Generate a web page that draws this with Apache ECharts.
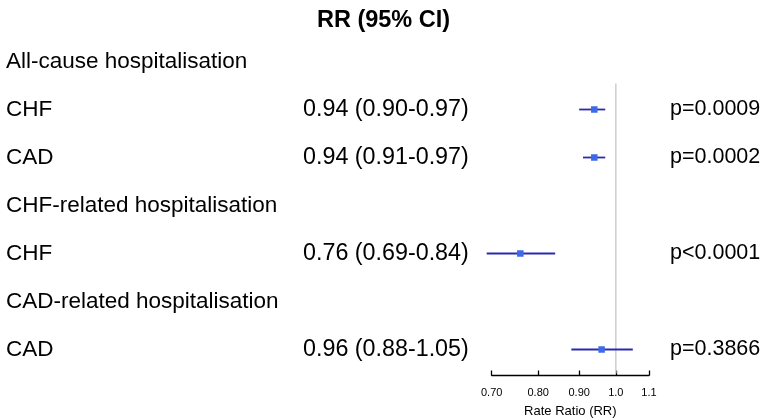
<!DOCTYPE html>
<html><head><meta charset="utf-8">
<script src="https://cdn.jsdelivr.net/npm/echarts@6/dist/echarts.min.js"></script>
<style>html,body{margin:0;padding:0;background:#fff}#c{width:767px;height:419px}</style>
</head><body><div id="c"></div>
<script>
const titleText = 'RR (95% CI)';
const rowLabels = ['All-cause hospitalisation','CHF','CAD','CHF-related hospitalisation','CHF','CAD-related hospitalisation','CAD'];
const estimates = [null,0.94,0.94,null,0.76,null,0.96];
const lowerCI   = [null,0.90,0.91,null,0.69,null,0.88];
const upperCI   = [null,0.97,0.97,null,0.84,null,1.05];
const pValues   = ['','p=0.0009','p=0.0002','','p<0.0001','','p=0.3866'];
const tickValues = [0.70,0.80,0.90,1.0,1.1];
const tickLabels = ['0.70','0.80','0.90','1.0','1.1'];
const axisTitle = 'Rate Ratio (RR)';
const refValue = 1.0;

const estText = estimates.map((e,i)=> e==null ? '' : e.toFixed(2)+' ('+lowerCI[i].toFixed(2)+'-'+upperCI[i].toFixed(2)+')');
const ids = rowLabels.map((_,i)=>String(i));
const L = Math.log;
const font = 'Liberation Sans, Arial, sans-serif';

const gridLeft = 491.7, gridRight = 767-649;
const forestData = [];
estimates.forEach((e,i)=>{ if(e!=null) forestData.push([L(e), i, L(lowerCI[i]), L(upperCI[i])]); });

const chart = echarts.init(document.getElementById('c'), null, {renderer:'canvas'});
chart.setOption({
  animation:false,
  title:{text:titleText,left:'center',top:4,textStyle:{fontFamily:font,fontSize:23.5,fontWeight:'bold',color:'#000'}},
  grid:{left:gridLeft,right:gridRight,top:37.5,height:336,containLabel:false,outerBoundsMode:'none'},
  xAxis:{type:'value',min:L(tickValues[0]),max:L(tickValues[tickValues.length-1]),
    offset:2,
    splitLine:{show:false},
    axisLine:{show:true,lineStyle:{color:'#000',width:1.3}},
    axisTick:{show:true,inside:true,length:5,customValues:tickValues.map(L),lineStyle:{color:'#000',width:1.3}},
    axisLabel:{customValues:tickValues.map(L),margin:12,fontFamily:font,fontSize:11,color:'#000',
      formatter:(v)=>{const k=tickValues.findIndex(t=>Math.abs(L(t)-v)<1e-6);return k>=0?tickLabels[k]:'';}},
    name:axisTitle,nameLocation:'middle',nameGap:29,nameTextStyle:{fontFamily:font,fontSize:13,color:'#000'}},
  yAxis:[
    {type:'category',data:ids,inverse:true,position:'left',axisLine:{show:false},axisTick:{show:false},splitLine:{show:false},
      axisLabel:{align:'left',margin:gridLeft-6,fontFamily:font,fontSize:22.5,color:'#000',formatter:(v,i)=>rowLabels[i]}},
    {type:'category',data:ids,inverse:true,position:'left',axisLine:{show:false},axisTick:{show:false},splitLine:{show:false},
      axisLabel:{align:'left',margin:gridLeft-303,fontFamily:font,fontSize:23.3,color:'#000',formatter:(v,i)=>estText[i]}},
    {type:'category',data:ids,inverse:true,position:'right',axisLine:{show:false},axisTick:{show:false},splitLine:{show:false},
      axisLabel:{align:'left',margin:670-649,fontFamily:font,fontSize:21.5,color:'#000',formatter:(v,i)=>pValues[i]}}
  ],
  series:[
    {type:'custom',coordinateSystem:'cartesian2d',yAxisIndex:0,clip:false,silent:true,
      data:[[L(refValue),1]],
      renderItem:(params,api)=>{
        const p=api.coord([api.value(0),api.value(1)]);
        const band=api.size([0,1])[1];
        const cs=params.coordSys;
        return {type:'line',shape:{x1:p[0],y1:p[1]-band/2-2,x2:p[0],y2:cs.y+cs.height},style:{stroke:'#cfcfcf',lineWidth:1.5}};
      }},
    {type:'custom',coordinateSystem:'cartesian2d',yAxisIndex:0,clip:false,silent:true,
      data:forestData,
      renderItem:(params,api)=>{
        const lo=api.coord([api.value(2),api.value(1)]);
        const hi=api.coord([api.value(3),api.value(1)]);
        const c=api.coord([api.value(0),api.value(1)]);
        const s=6.5;
        return {type:'group',children:[
          {type:'line',shape:{x1:lo[0],y1:lo[1],x2:hi[0],y2:hi[1]},style:{stroke:'#2b2bb0',lineWidth:1.8}},
          {type:'rect',shape:{x:c[0]-s/2,y:c[1]-s/2,width:s,height:s},style:{fill:'#3f6ae6'}}
        ]};
      }}
  ]
});
</script></body></html>
